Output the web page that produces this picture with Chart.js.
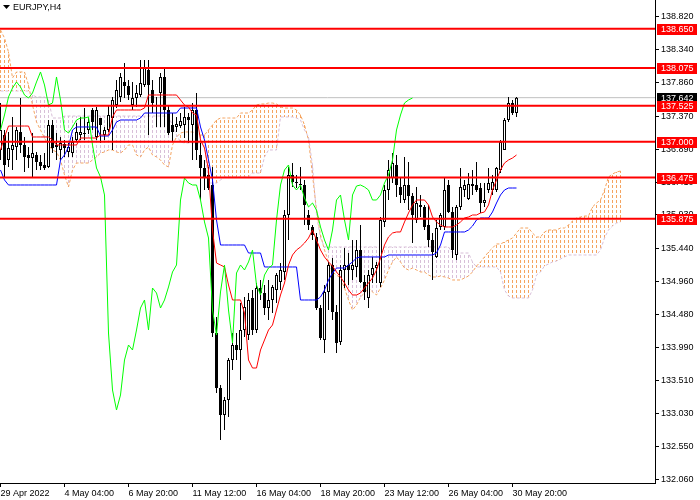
<!DOCTYPE html>
<html><head><meta charset="utf-8">
<script src="https://cdn.jsdelivr.net/npm/chart.js@4.4.0/dist/chart.umd.min.js"></script>
<style>html,body{margin:0;padding:0;background:#fff;overflow:hidden}canvas{display:block}</style>
</head><body>
<canvas id="c" width="700" height="500"></canvas>
<script>
const symbolTitle = 'EURJPY,H4';
const xTickBars = [0, 16, 32, 48, 64, 80, 96, 112, 128];
const xTickLabels = ['29 Apr 2022', '4 May 04:00', '6 May 20:00', '11 May 12:00', '16 May 04:00', '18 May 20:00', '23 May 12:00', '26 May 04:00', '30 May 20:00'];
const yTicks = [138.820, 138.340, 137.860, 137.370, 136.890, 136.410, 135.930, 135.440, 134.960, 134.480, 133.990, 133.510, 133.030, 132.550, 132.060];
const levels = [138.650, 138.075, 137.525, 137.000, 136.475, 135.875];
const currentPrice = 137.642;

const open = [
136.878,137.097,136.732,136.878,136.922,137.141,136.951,136.805,136.761,136.805,
136.703,136.659,136.630,137.243,136.951,136.878,136.966,136.849,136.834,137.024,
137.097,137.126,137.170,137.462,137.068,137.345,137.097,137.170,137.345,137.535,
137.652,137.871,137.812,137.535,137.637,137.681,137.827,138.046,137.754,137.535,
137.710,137.944,137.462,137.243,137.214,137.228,137.243,137.360,137.243,137.462,
136.805,136.615,136.513,136.367,134.206,133.403,133.009,133.228,133.812,134.031,
133.958,134.250,134.177,134.717,134.250,134.863,134.790,134.571,134.688,134.834,
134.951,135.097,135.929,136.513,136.411,136.367,136.367,135.929,135.754,135.608,
134.571,134.104,134.805,135.199,134.513,134.075,135.126,135.199,135.126,135.170,
135.418,134.951,134.717,135.053,135.155,134.936,135.827,136.294,136.469,136.659,
136.338,136.148,136.367,136.206,135.856,136.075,136.046,135.783,135.564,135.316,
135.754,135.754,136.367,135.973,135.345,136.046,136.294,136.163,136.352,136.367,
136.323,136.104,136.294,136.294,136.294,136.586,136.878,137.316,137.564,137.418];
const high = [
137.564,137.170,137.141,137.360,137.214,137.637,137.068,136.922,137.126,136.849,
136.805,136.834,137.316,137.316,137.126,137.068,137.024,136.980,137.068,137.272,
137.360,137.491,137.360,137.491,137.506,137.345,137.214,137.535,137.652,137.900,
138.002,138.148,137.900,137.871,137.827,138.192,138.192,138.192,137.900,137.652,
138.002,138.090,137.535,137.418,137.360,137.418,137.506,137.418,137.564,137.710,
136.980,136.732,136.630,136.630,134.440,133.447,133.272,133.841,134.206,134.206,
134.644,134.732,134.790,134.834,134.936,134.980,134.907,134.980,134.907,135.082,
135.228,136.002,136.630,136.688,136.513,136.630,136.440,136.002,135.783,135.666,
134.615,134.907,135.243,135.301,134.615,135.199,135.447,135.374,135.564,135.564,
135.783,135.053,135.126,135.316,135.243,135.900,136.367,136.732,136.834,136.805,
136.484,136.776,136.703,136.250,136.338,136.221,136.075,136.075,135.666,135.856,
135.958,136.469,136.440,136.046,136.075,136.615,136.440,136.542,136.586,136.703,
136.396,136.396,136.615,136.513,136.630,137.024,137.345,137.652,137.608,137.652];
const low = [
136.732,136.484,136.630,136.586,136.732,136.834,136.557,136.615,136.484,136.586,
136.586,136.586,136.615,136.834,136.732,136.732,136.776,136.776,136.776,136.995,
137.024,137.024,137.112,137.170,137.024,136.980,137.024,137.141,136.878,137.491,
137.579,137.637,137.608,137.462,137.506,137.652,137.798,137.097,137.418,137.214,
137.214,137.214,137.097,136.995,137.141,137.199,137.053,136.980,136.732,136.732,
136.148,136.294,136.294,134.148,133.330,132.644,132.790,132.980,133.666,133.812,
133.520,134.148,134.104,134.177,134.206,134.688,134.469,134.396,134.498,134.644,
134.834,134.980,135.564,136.338,136.323,136.294,135.783,135.710,135.564,134.542,
134.104,133.914,134.542,134.396,133.914,134.031,134.863,134.907,134.980,135.024,
134.936,134.688,134.571,134.936,134.936,134.878,135.754,136.148,136.396,136.192,
136.104,136.104,136.002,135.520,135.812,135.900,135.710,135.462,134.980,135.301,
135.710,135.710,135.958,135.301,135.272,136.002,136.192,136.148,136.221,136.265,
135.958,136.046,136.250,136.221,136.265,136.542,136.878,137.287,137.389,137.360];
const close = [
137.170,136.659,136.907,136.951,137.170,136.951,136.776,136.761,136.834,136.703,
136.644,136.615,137.243,136.907,136.922,136.980,136.907,136.922,136.995,137.141,
137.141,137.112,137.287,137.287,137.462,137.243,137.170,137.389,137.608,137.754,
137.944,137.812,137.681,137.637,137.710,137.856,138.075,137.827,137.564,137.520,
137.944,137.462,137.126,137.141,137.258,137.301,137.360,137.316,137.462,136.878,
136.615,136.484,136.323,134.206,133.403,133.009,133.228,133.812,134.031,133.958,
134.250,134.586,134.688,134.250,134.863,134.790,134.571,134.688,134.878,135.053,
135.126,135.929,136.513,136.411,136.396,136.382,136.075,135.783,135.637,134.571,
134.133,134.805,135.199,134.513,134.060,135.126,135.199,135.126,135.199,135.418,
134.951,134.805,135.053,135.155,135.199,135.856,136.294,136.586,136.688,136.367,
136.221,136.367,136.206,135.929,136.104,136.046,135.754,135.564,135.389,135.739,
135.929,136.294,135.973,135.418,136.046,136.338,136.367,136.382,136.382,136.294,
136.104,136.148,136.396,136.411,136.615,136.995,137.316,137.564,137.418,137.642];

const tenkan = [
136.878,137.068,137.228,137.228,137.228,137.228,137.228,137.228,137.068,137.068,
137.068,137.068,137.068,137.024,136.951,136.951,136.951,136.951,136.951,136.951,
137.053,137.053,137.053,137.053,137.053,137.097,137.097,137.097,137.360,137.462,
137.462,137.462,137.462,137.462,137.462,137.462,137.491,137.681,137.681,137.681,
137.681,137.681,137.681,137.681,137.681,137.608,137.535,137.506,137.418,137.389,
137.024,136.907,136.586,135.710,135.228,135.199,135.170,134.907,134.688,134.688,
134.688,134.498,133.812,133.695,133.695,133.958,134.104,134.250,134.323,134.542,
134.761,134.936,135.199,135.345,135.418,135.462,135.520,135.593,135.710,135.564,
135.418,135.316,135.243,135.184,135.097,135.024,134.936,134.834,134.761,134.761,
134.790,134.863,134.936,135.009,135.126,135.301,135.491,135.608,135.666,135.681,
135.681,135.827,135.958,136.075,136.148,136.148,136.148,136.075,135.900,135.827,
135.783,135.754,135.754,135.754,135.783,135.827,135.885,135.900,135.929,135.929,
135.958,135.973,136.075,136.294,136.440,136.586,136.688,136.732,136.761,136.805];
const kijun = [
136.586,136.440,136.367,136.367,136.367,136.367,136.367,136.367,136.367,136.367,
136.367,136.367,136.367,136.367,136.367,136.732,136.805,136.922,137.170,137.214,
137.214,137.214,137.214,137.214,137.214,137.082,137.082,137.082,137.170,137.287,
137.316,137.316,137.316,137.316,137.316,137.345,137.418,137.418,137.418,137.418,
137.418,137.418,137.418,137.418,137.418,137.491,137.491,137.491,137.491,137.491,
137.214,137.024,136.732,136.440,135.856,135.491,135.491,135.491,135.491,135.491,
135.491,135.491,135.374,135.374,135.374,135.374,135.170,135.170,135.170,135.170,
135.170,135.170,135.170,135.170,135.170,134.688,134.688,134.688,134.688,134.688,
134.732,134.834,134.980,135.082,135.155,135.155,135.155,135.199,135.243,135.301,
135.316,135.316,135.316,135.316,135.316,135.316,135.316,135.345,135.345,135.345,
135.345,135.345,135.345,135.345,135.345,135.345,135.345,135.345,135.345,135.374,
135.491,135.681,135.681,135.681,135.681,135.681,135.681,135.710,135.768,135.856,
135.885,135.885,135.885,135.973,136.104,136.221,136.294,136.323,136.323,136.323];
const chikou = [
137.170,137.389,137.652,137.783,137.871,137.798,137.681,137.637,137.710,137.871,
138.017,137.827,137.535,137.564,137.944,137.608,137.170,137.126,137.214,137.316,
137.345,137.345,137.360,136.951,136.615,136.484,136.221,134.206,133.374,133.082,
133.301,133.812,134.031,133.958,134.250,134.571,134.688,134.250,134.863,134.790,
134.571,134.688,134.878,135.097,135.199,136.148,136.469,136.396,136.367,136.367,
136.148,135.827,135.593,134.542,134.177,134.805,135.199,134.542,134.060,135.082,
135.199,135.126,135.243,135.418,134.907,134.761,135.053,135.155,135.199,135.856,
136.367,136.586,136.659,136.367,136.294,136.367,136.177,136.046,136.104,136.002,
135.754,135.564,135.418,135.710,136.148,136.221,135.856,135.564,136.221,136.352,
136.367,136.338,136.294,136.148,136.148,136.221,136.396,136.513,136.732,137.170,
137.389,137.564,137.608,137.637];
const senkouA = [
138.630,138.513,138.309,137.929,138.017,138.017,138.017,137.827,137.535,137.287,
137.170,137.053,136.951,136.878,136.849,136.732,136.513,136.338,136.586,136.688,
136.688,136.688,136.688,136.732,136.776,136.834,136.849,136.878,136.878,136.849,
136.834,136.878,136.951,136.951,136.805,136.776,136.878,136.922,136.805,136.776,
136.732,136.659,136.630,136.951,137.068,137.126,137.141,137.141,137.141,137.126,
137.097,137.097,137.170,137.243,137.316,137.345,137.345,137.345,137.345,137.345,
137.418,137.418,137.418,137.462,137.535,137.550,137.550,137.564,137.564,137.550,
137.506,137.491,137.491,137.491,137.462,137.389,137.243,137.024,136.513,136.002,
135.637,135.418,135.243,135.097,135.053,135.009,134.863,134.688,134.542,134.615,
134.732,134.790,134.863,134.805,134.761,134.863,134.980,135.126,135.243,135.316,
135.243,135.155,135.126,135.155,135.126,135.097,135.097,135.053,135.024,135.024,
135.038,135.024,135.009,134.980,134.980,134.980,135.009,135.038,135.097,135.184,
135.243,135.316,135.389,135.447,135.506,135.506,135.535,135.564,135.593,135.666,
135.739,135.739,135.739,135.666,135.608,135.608,135.681,135.710,135.710,135.710,
135.739,135.739,135.783,135.841,135.885,135.900,135.914,135.914,136.046,136.104,
136.148,136.294,136.484,136.528,136.557,136.571];
const senkouB = [
137.739,137.739,137.739,137.739,137.739,137.739,137.739,137.739,137.681,137.652,
137.652,137.652,137.608,137.345,137.345,137.345,137.374,137.374,137.374,137.374,
137.374,137.374,137.374,137.374,137.374,137.374,137.374,137.374,137.374,137.374,
137.374,137.374,137.374,137.374,137.374,137.374,137.374,137.374,137.374,137.374,
137.374,137.374,137.360,137.243,137.097,136.995,136.980,136.980,136.980,136.980,
136.980,136.980,136.396,136.396,136.396,136.440,136.484,136.484,136.484,136.484,
136.484,136.484,136.484,136.542,136.542,136.542,136.776,136.878,136.878,136.878,
137.360,137.360,137.360,137.360,137.345,137.316,137.170,137.068,136.659,135.929,
135.593,135.462,135.462,135.462,135.462,135.462,135.462,135.462,135.462,135.462,
135.462,135.462,135.462,135.462,135.462,135.462,135.462,135.462,135.462,135.462,
135.462,135.462,135.462,135.462,135.462,135.462,135.462,135.462,135.462,135.462,
135.462,135.462,135.462,135.374,135.374,135.374,135.374,135.374,135.243,135.170,
135.170,135.170,135.170,135.170,135.170,135.097,134.834,134.746,134.717,134.717,
134.717,134.717,134.717,134.834,135.053,135.097,135.184,135.214,135.243,135.257,
135.287,135.316,135.345,135.345,135.345,135.345,135.345,135.345,135.345,135.345,
135.418,135.593,135.710,135.768,135.812,135.827];

const FONT = '"Liberation Sans", Arial, sans-serif';
const canvas = document.getElementById('c');
const ctx0 = canvas.getContext('2d');
function hatch(color) {
  const c = document.createElement('canvas');
  c.width = 1; c.height = 5;
  const g = c.getContext('2d');
  g.fillStyle = color; g.fillRect(0, 0, 1, 3);
  return ctx0.createPattern(c, 'repeat');
}
const ORANGE = '#F4A460', THISTLE = '#D8BFD8';
const patOrange = hatch(ORANGE), patThistle = hatch(THISTLE);

const wickData = open.map((_, i) => ({x: i, y: [low[i], high[i]]}));
const bodyData = open.map((_, i) => ({x: i, y: [open[i], close[i]]}));
const cloudData = senkouA.map((a, i) => ({x: i, y: [Math.min(a, senkouB[i]), Math.max(a, senkouB[i])]}));
const lineOf = arr => arr.map((v, i) => ({x: i, y: v}));
const hLine = v => [{x: -2, y: v}, {x: 170, y: v}];

const datasets = [
  {type: 'bar', data: cloudData, grouped: false, barThickness: 1, borderWidth: 0, inflateAmount: 0, order: 20,
   backgroundColor: c => (senkouA[c.dataIndex] >= senkouB[c.dataIndex] ? patOrange : patThistle)},
  {type: 'line', data: lineOf(senkouA), borderColor: ORANGE, borderWidth: 1, borderDash: [3, 2], pointRadius: 0, tension: 0, order: 19},
  {type: 'line', data: lineOf(senkouB), borderColor: THISTLE, borderWidth: 1, borderDash: [3, 2], pointRadius: 0, tension: 0, order: 18},
  {type: 'line', data: hLine(currentPrice), borderColor: '#C0C0C0', borderWidth: 1, pointRadius: 0, order: 17},
  {type: 'bar', data: wickData, grouped: false, barThickness: 1, backgroundColor: '#000', borderWidth: 0, inflateAmount: 0, order: 10},
  {type: 'bar', data: bodyData, grouped: false, barThickness: 3, inflateAmount: 0, borderSkipped: false, borderWidth: 1, borderColor: '#000', order: 9,
   backgroundColor: c => (close[c.dataIndex] >= open[c.dataIndex] ? '#fff' : '#000')},
  {type: 'line', data: lineOf(kijun), borderColor: '#0000FF', borderWidth: 1, pointRadius: 0, tension: 0, order: 6},
  {type: 'line', data: lineOf(tenkan), borderColor: '#FF0000', borderWidth: 1, pointRadius: 0, tension: 0, order: 5},
  {type: 'line', data: lineOf(chikou), borderColor: '#00FF00', borderWidth: 1, pointRadius: 0, tension: 0, order: 4}
];
levels.forEach(v => datasets.push({type: 'line', data: hLine(v), borderColor: '#FF0000', borderWidth: 2, pointRadius: 0, order: 1}));

const overlay = {
  id: 'overlay',
  afterDraw(chart) {
    const ctx = chart.ctx, ys = chart.scales.y, right = chart.chartArea.right;
    ctx.save();
    ctx.font = '9px ' + FONT;
    ctx.textBaseline = 'middle'; ctx.textAlign = 'left';
    const box = (v, bg) => {
      const py = Math.round(ys.getPixelForValue(v));
      ctx.fillStyle = bg; ctx.fillRect(right + 2, py - 5, 40, 11);
      ctx.fillStyle = '#fff'; ctx.fillText(v.toFixed(3), right + 6, py + 1);
    };
    box(currentPrice, '#000');
    levels.forEach(v => box(v, '#FF0000'));
    ctx.fillStyle = '#000';
    ctx.beginPath(); ctx.moveTo(3, 5); ctx.lineTo(10, 5); ctx.lineTo(6.5, 9); ctx.closePath(); ctx.fill();
    ctx.fillText(symbolTitle, 13, 8);
    ctx.restore();
  }
};

new Chart(canvas, {
  type: 'bar',
  data: {datasets},
  plugins: [overlay],
  options: {
    responsive: false, animation: false, devicePixelRatio: 1, events: [],
    layout: {padding: 0},
    plugins: {legend: {display: false}, tooltip: {enabled: false}, title: {display: false}},
    scales: {
      x: {
        type: 'linear', min: -0.125, max: 163.625, offset: false, position: 'bottom',
        grid: {drawOnChartArea: false, drawTicks: true, tickLength: 4, color: '#000', offset: false},
        border: {display: true, color: '#000', width: 1},
        ticks: {autoSkip: false, maxRotation: 0, minRotation: 0, align: 'start', padding: 1, color: '#000',
                font: {family: FONT, size: 9},
                callback: v => { const k = xTickBars.indexOf(v); return k >= 0 ? xTickLabels[k] : ''; }},
        afterBuildTicks: s => { s.ticks = xTickBars.map(v => ({value: v})); },
        afterFit: s => { s.height = 17; s.paddingLeft = 0; s.paddingRight = 0; }
      },
      y: {
        type: 'linear', position: 'right', min: 132.016, max: 139.068,
        grid: {drawOnChartArea: false, drawTicks: true, tickLength: 4, color: '#000'},
        border: {display: true, color: '#000', width: 1},
        ticks: {padding: 2, color: '#000', font: {family: FONT, size: 9}, callback: v => v.toFixed(3)},
        afterBuildTicks: s => { s.ticks = yTicks.map(v => ({value: v})); },
        afterFit: s => { s.width = 45; s.paddingTop = 0; s.paddingBottom = 0; }
      }
    }
  }
});
</script>
</body></html>
